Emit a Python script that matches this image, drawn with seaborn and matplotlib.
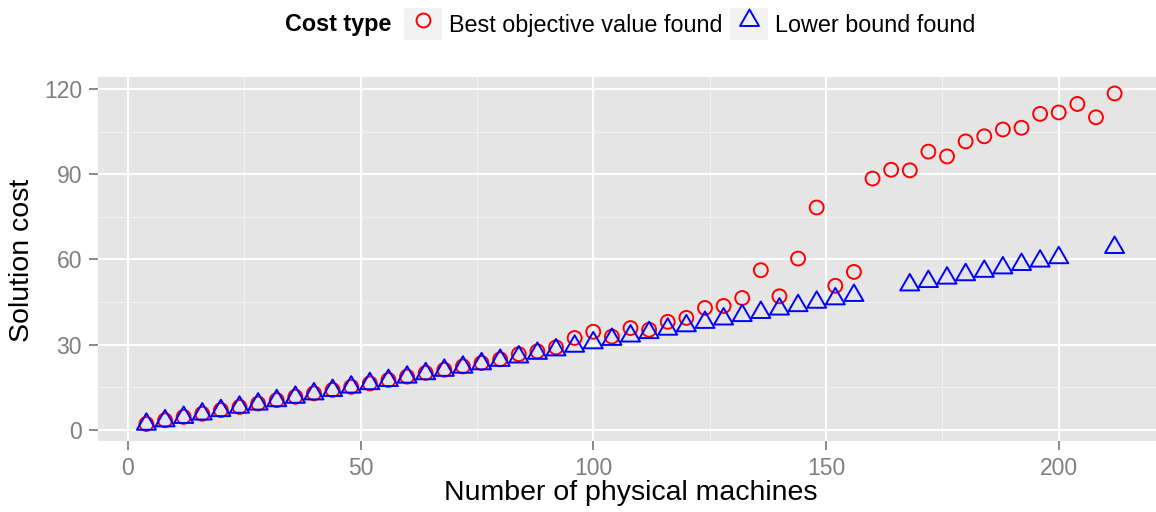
import matplotlib
matplotlib.use("Agg")
import matplotlib.pyplot as plt
import seaborn as sns
import pandas as pd
from matplotlib.path import Path
from matplotlib.patches import Rectangle
from matplotlib.lines import Line2D
from matplotlib.legend_handler import HandlerTuple

# ---- data ----
cost_types = ["Best objective value found", "Lower bound found"]
type_colors = ["red", "blue"]

machines = [4, 8, 12, 16, 20, 24, 28, 32, 36, 40, 44, 48, 52, 56, 60, 64,
            68, 72, 76, 80, 84, 88, 92, 96, 100, 104, 108, 112, 116, 120,
            124, 128, 132, 136, 140, 144, 148, 152, 156, 160, 164, 168, 172,
            176, 180, 184, 188, 192, 196, 200, 204, 208, 212]
best_cost = [2.0, 3.3, 4.5, 5.6, 6.9, 8.0, 9.2, 10.4, 11.6, 12.8, 14.0, 15.1,
             16.3, 17.5, 18.7, 20.0, 21.1, 22.3, 23.5, 24.8, 26.6, 27.6, 29.0,
             32.3, 34.5, 32.8, 35.8, 35.2, 38.0, 39.4, 42.9, 43.6, 46.4, 56.2,
             47.0, 60.3, 78.3, 50.7, 55.6, 88.5, 91.6, 91.4, 98.0, 96.3, 101.6,
             103.4, 105.8, 106.4, 111.3, 111.8, 114.8, 110.1, 118.5]

bound_machines = [4, 8, 12, 16, 20, 24, 28, 32, 36, 40, 44, 48, 52, 56, 60,
                  64, 68, 72, 76, 80, 84, 88, 92, 96, 100, 104, 108, 112, 116,
                  120, 124, 128, 132, 136, 140, 144, 148, 152, 156, 168, 172,
                  176, 180, 184, 188, 192, 196, 200, 212]
bound_cost = [1.9, 3.1, 4.3, 5.5, 6.7, 7.9, 9.0, 10.2, 11.4, 12.6, 13.8, 15.0,
              16.2, 17.3, 18.5, 19.7, 20.9, 22.0, 23.2, 24.4, 25.6, 26.9, 28.1,
              29.4, 30.6, 31.8, 33.0, 34.2, 35.4, 36.6, 37.8, 39.0, 40.2, 41.3,
              42.5, 43.7, 44.9, 46.1, 47.3, 51.0, 52.2, 53.4, 54.6, 55.8, 57.0,
              58.2, 59.4, 60.6, 64.2]

df = pd.concat([
    pd.DataFrame({"machines": machines, "cost": best_cost,
                  "Cost type": cost_types[0]}),
    pd.DataFrame({"machines": bound_machines, "cost": bound_cost,
                  "Cost type": cost_types[1]}),
], ignore_index=True)

plt.rcParams["font.family"] = ["Liberation Sans", "DejaVu Sans"]

# R style triangle (centred on its centroid)
tri = Path([(0, 1), (-0.866, -0.5), (0.866, -0.5), (0, 1)],
           [Path.MOVETO, Path.LINETO, Path.LINETO, Path.CLOSEPOLY])

fig = plt.figure(figsize=(11.56, 5.12), dpi=100)
ax = fig.add_axes([98 / 1156, 1 - 441 / 512, 1065 / 1156, 364 / 512])
ax.set_facecolor("#E5E5E5")

sns.scatterplot(data=df, x="machines", y="cost", hue="Cost type",
                style="Cost type", size="Cost type",
                palette=dict(zip(cost_types, type_colors)),
                markers={cost_types[0]: "o", cost_types[1]: tri},
                sizes={cost_types[0]: 100, cost_types[1]: 250},
                linewidth=1.4, legend=False, ax=ax, zorder=3)
pts = ax.collections[0]
pts.set_edgecolors(pts.get_facecolors())
pts.set_facecolors("none")

ax.set_xlim(-6.4, 222.4)
ax.set_ylim(-4.0, 124.3)
ax.set_xticks([0, 50, 100, 150, 200])
ax.set_xticks([25, 75, 125, 175], minor=True)
ax.set_yticks([0, 30, 60, 90, 120])
ax.set_yticks([15, 45, 75, 105], minor=True)
ax.grid(which="major", color="white", lw=1.5)
ax.grid(which="minor", color="#F2F2F2", lw=0.8)
ax.set_axisbelow(True)
for s in ax.spines.values():
    s.set_visible(False)
ax.tick_params(which="major", length=6.5, width=1.3, color="#7F7F7F",
               labelcolor="#7F7F7F", labelsize=16.5, pad=5)
ax.tick_params(which="minor", length=0)

ax.set_xlabel("Number of physical machines", fontsize=20.5)
ax.set_ylabel("Solution cost", fontsize=20.5)
ax.xaxis.label.set_va("center")
ax.yaxis.label.set_va("center")
ax.xaxis.set_label_coords(0.5, -0.143)
ax.yaxis.set_label_coords(-0.0714, 0.497)

# legend on top, ggplot style
handles = []
for c, m, ms in zip(type_colors, ["o", tri], [10, 15.8]):
    box = Rectangle((0, 0), 1, 1, fc="#F2F2F2", ec="none")
    mk = Line2D([], [], ls="none", marker=m, ms=ms, mfc="none", mec=c, mew=1.4)
    handles.append((box, mk))
fig.legend(handles, cost_types, handler_map={tuple: HandlerTuple(ndivide=1, pad=0)},
           ncol=2, loc="center left", bbox_to_anchor=(404 / 1156, 1 - 24 / 512),
           frameon=False, fontsize=16.8, handlelength=1.63, handleheight=1.67,
           handletextpad=0.3, columnspacing=0.3, borderpad=0, borderaxespad=0)
fig.text(285 / 1156, 1 - 24 / 512, "Cost type", fontweight="bold",
         fontsize=16.8, va="center", ha="left")

fig.savefig("out.png", dpi=100)
